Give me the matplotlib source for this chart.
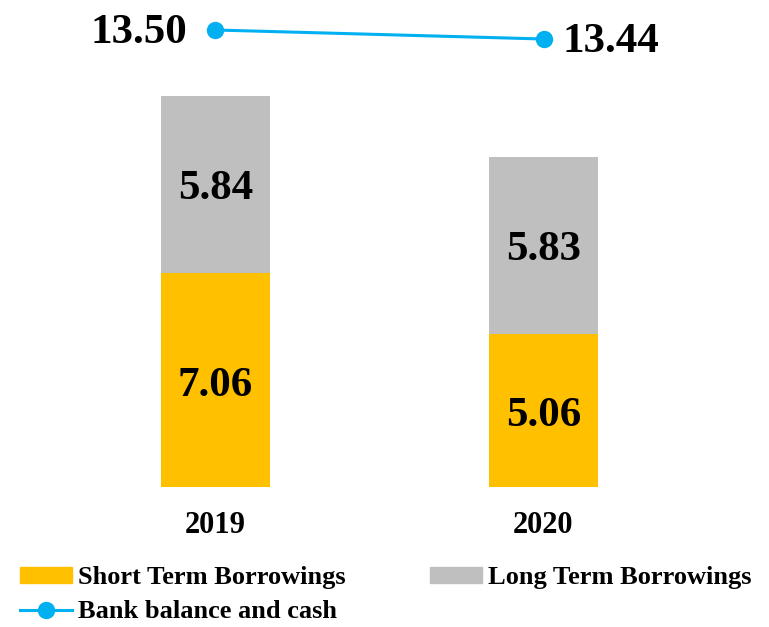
import matplotlib.pyplot as plt
from matplotlib.patches import Patch
from matplotlib.lines import Line2D

years = ["2019", "2020"]
short_term = [7.06, 5.06]
long_term = [5.84, 5.83]
bank_cash = [13.50, 13.44]

orange = "#FFC000"
gray = "#BFBFBF"
blue = "#00B0F0"
font = "Liberation Serif"

fig = plt.figure(figsize=(7.69, 6.27), dpi=100)
ax = fig.add_axes([0.0, 140 / 627, 1.0, 487 / 627])

x = [0, 1]
w = 0.332
ax.bar(x, short_term, width=w, color=orange)
ax.bar(x, long_term, width=w, bottom=short_term, color=gray)
ax.set_xlim(-215.5 / 328, (769 - 215.5) / 328)
ax.set_ylim(0, 487 / 30.3)

for i in x:
    ax.annotate(f"{short_term[i]:.2f}", (i, short_term[i] / 2), xytext=(0, -4),
                textcoords="offset points", ha="center", va="center",
                fontsize=31, fontweight="bold", family=font)
    ax.annotate(f"{long_term[i]:.2f}", (i, short_term[i] + long_term[i] / 2),
                xytext=(0, -3), textcoords="offset points", ha="center", va="center",
                fontsize=31, fontweight="bold", family=font)

for s in ax.spines.values():
    s.set_visible(False)
ax.set_yticks([])
ax.set_xticks(x)
ax.set_xticklabels(years, fontsize=22, fontweight="bold", family=font)
ax.tick_params(axis="x", length=0, pad=17)

ax2 = ax.twinx()
ax2.plot(x, bank_cash, color=blue, lw=2.2, marker="o", markersize=11.5)
ax2.set_ylim(13.50 - 457 / 150, 13.50 + 30 / 150)
ax2.set_yticks([])
for s in ax2.spines.values():
    s.set_visible(False)
ax2.annotate(f"{bank_cash[0]:.2f}", (0, bank_cash[0]), xytext=(-20, -2),
             textcoords="offset points", ha="right", va="center",
             fontsize=31, fontweight="bold", family=font)
ax2.annotate(f"{bank_cash[1]:.2f}", (1, bank_cash[1]), xytext=(14, -2),
             textcoords="offset points", ha="left", va="center",
             fontsize=31, fontweight="bold", family=font)

handles = [
    Patch(color=orange, label="Short Term Borrowings"),
    Line2D([], [], color=blue, lw=2.2, marker="o", markersize=11.5, label="Bank balance and cash"),
    Patch(color=gray, label="Long Term Borrowings"),
]
fig.legend(handles=handles, ncol=2, loc="upper left", bbox_to_anchor=(0.026, 0.097),
           frameon=False, prop={"family": font, "weight": "bold", "size": 19},
           handlelength=1.97, handleheight=0.53, columnspacing=3.18, handletextpad=0.23,
           labelspacing=0.42, borderaxespad=0, borderpad=0)

fig.savefig("out.png", dpi=100)
